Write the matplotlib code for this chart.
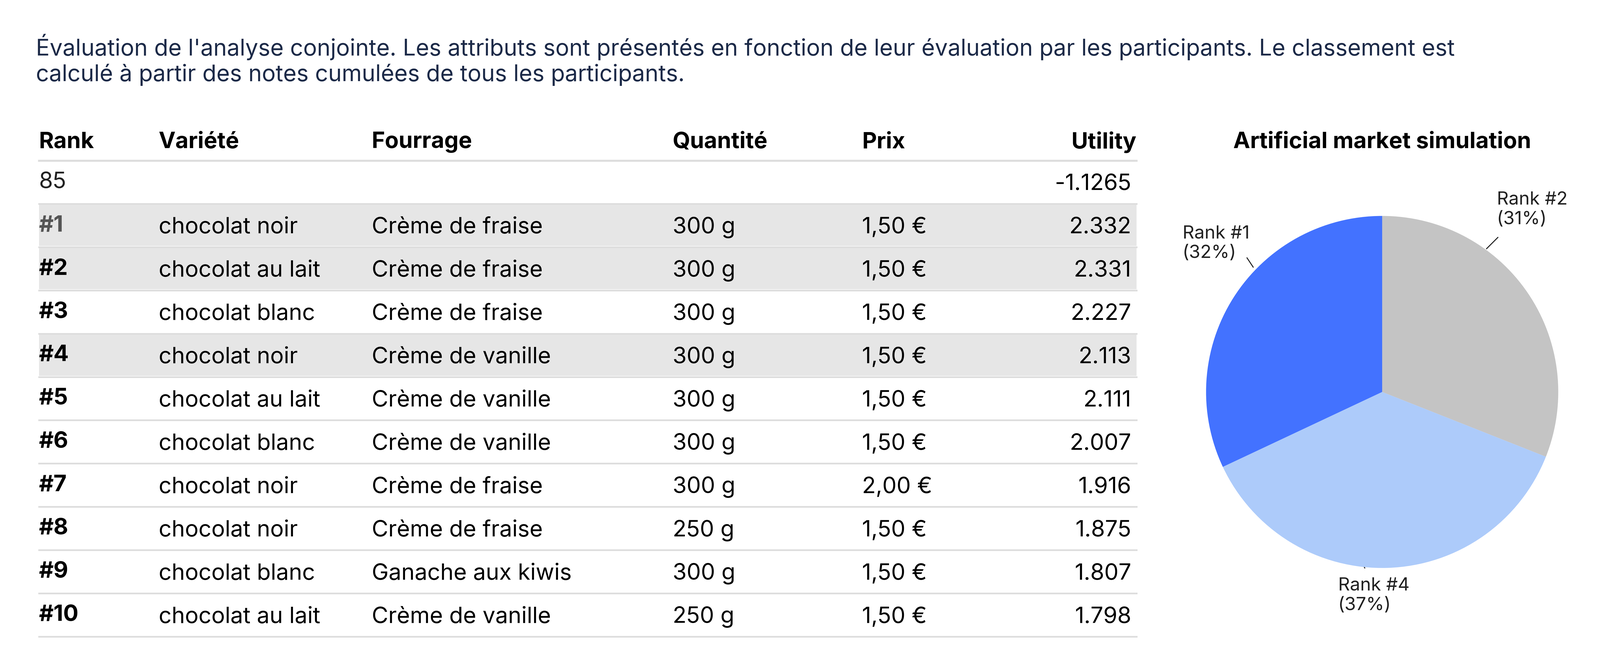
import matplotlib
matplotlib.use("Agg")
import matplotlib.pyplot as plt
from matplotlib.patches import Rectangle

plt.rcParams["font.family"] = "Inter"

title = ("Évaluation de l'analyse conjointe. Les attributs sont présentés en fonction de leur évaluation par les participants. Le classement est\n"
         "calculé à partir des notes cumulées de tous les participants.")
headers = ["Rank", "Variété", "Fourrage", "Quantité", "Prix", "Utility"]
ranks = ["85", "#1", "#2", "#3", "#4", "#5", "#6", "#7", "#8", "#9", "#10"]
varietes = ["", "chocolat noir", "chocolat au lait", "chocolat blanc", "chocolat noir", "chocolat au lait",
            "chocolat blanc", "chocolat noir", "chocolat noir", "chocolat blanc", "chocolat au lait"]
fourrages = ["", "Crème de fraise", "Crème de fraise", "Crème de fraise", "Crème de vanille", "Crème de vanille",
             "Crème de vanille", "Crème de fraise", "Crème de fraise", "Ganache aux kiwis", "Crème de vanille"]
quantites = ["", "300 g", "300 g", "300 g", "300 g", "300 g", "300 g", "300 g", "250 g", "300 g", "250 g"]
prix = ["", "1,50 €", "1,50 €", "1,50 €", "1,50 €", "1,50 €", "1,50 €", "2,00 €", "1,50 €", "1,50 €", "1,50 €"]
utility = ["-1.1265", "2.332", "2.331", "2.227", "2.113", "2.111", "2.007", "1.916", "1.875", "1.807", "1.798"]
highlighted = [False, True, True, False, True, False, False, False, False, False, False]

pie_title = "Artificial market simulation"
pie_labels = ["Rank #2", "Rank #4", "Rank #1"]
pie_values = [31, 37, 32]
pie_colors = ["#c4c4c4", "#adcbfa", "#4372ff"]

W, H = 1563, 642
fig = plt.figure(figsize=(66.85, 27.46), dpi=100)
ax = fig.add_axes([0, 0, 1, 1])
ax.set_xlim(0, W); ax.set_ylim(H, 0); ax.axis("off")

ax.text(35, 33, title, fontsize=69, color="#1c2a48", va="top", ha="left", linespacing=1.2)

colx = [38, 155, 363, 657, 842, 1105]
fs = 68
ax.text(colx[0], 139, headers[0], fontsize=fs, fontweight="bold", va="center")
for i in range(1, 5):
    ax.text(colx[i], 139, headers[i], fontsize=fs, fontweight="bold", va="center")
ax.text(1110, 139, headers[5], fontsize=fs, fontweight="bold", va="center", ha="right")
ax.plot([38, 1110], [157, 157], color="#dddddd", lw=6)

y0, dy = 178, 42.3
for r in range(len(ranks)):
    yc = y0 + r * dy
    if highlighted[r]:
        ax.add_patch(Rectangle((38, yc - dy / 2 + 1), 1072, dy - 2, color="#e6e6e6", lw=0))
    ax.plot([38, 1110], [yc + dy / 2, yc + dy / 2], color="#dddddd", lw=5)
    c = "#555555" if highlighted[r] and r == 1 else "black"
    ax.text(colx[0], yc, ranks[r], fontsize=fs, va="center",
            fontweight="normal" if r == 0 else "bold", color=c if r else "#222222")
    ax.text(colx[1], yc + 2, varietes[r], fontsize=fs, va="center")
    ax.text(colx[2], yc + 2, fourrages[r], fontsize=fs, va="center")
    ax.text(colx[3], yc + 2, quantites[r], fontsize=fs, va="center")
    ax.text(colx[4], yc + 2, prix[r], fontsize=fs, va="center")
    ax.text(colx[5], yc + 2, utility[r], fontsize=fs, va="center", ha="right")

ax.text(1350, 139, pie_title, fontsize=fs, fontweight="bold", va="center", ha="center")

# pie axes: center (1350,383), radius ~172
cx, cy, rad = 1350, 383, 172
pax = fig.add_axes([(cx - rad) / W, 1 - (cy + rad) / H, 2 * rad / W, 2 * rad / H])
pax.pie(pie_values, colors=pie_colors, startangle=90, counterclock=False,
        wedgeprops=dict(linewidth=0))
pax.set_aspect("auto")
pax.set_xlim(-1, 1); pax.set_ylim(-1, 1)

lab_pos = [(1462, 205, "left", (1452, 243, 1463, 232)),
           (1307, 582, "left", (1328, 545, 1333, 555)),
           (1155, 238, "left", (1218, 252, 1224, 261))]
for (x, y, ha, ln), lab, v in zip(lab_pos, pie_labels, pie_values):
    ax.text(x, y, f"{lab}\n({v}%)", fontsize=55, va="center", ha=ha, color="#222222", linespacing=1.2)
    ax.plot([ln[0], ln[2]], [ln[1], ln[3]], color="#222222", lw=3)

fig.savefig("out.png", dpi=100, facecolor="white")
